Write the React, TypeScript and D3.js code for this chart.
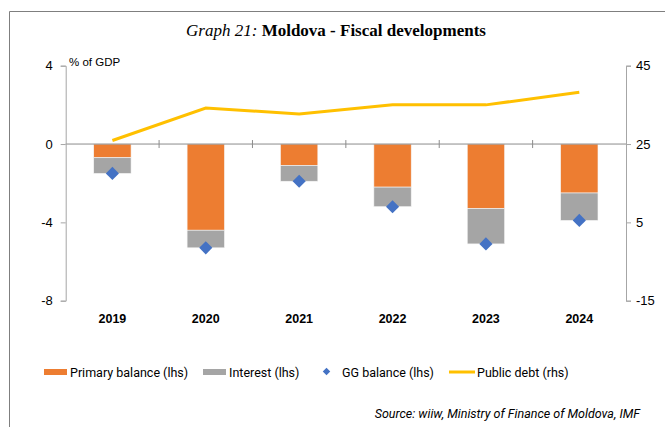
import { useRef, useEffect } from 'react';
import * as d3 from 'd3';

// values, % of GDP
const years = ['2019', '2020', '2021', '2022', '2023', '2024'];
const primaryBalance = [-0.7, -4.4, -1.1, -2.2, -3.3, -2.5];
const interest = [-0.8, -0.9, -0.8, -1.0, -1.8, -1.4];
const ggBalance = [-1.5, -5.3, -1.9, -3.2, -5.1, -3.9];
const publicDebt = [25.9, 34.2, 32.7, 35.0, 35.0, 38.2];
const leftTicks = [-8, -4, 0, 4];
const rightTicks = [-15, 5, 25, 45];

const W = 665;
const H = 427;

const App = () => {
	const svgRef = useRef<SVGSVGElement>(null);

	useEffect(() => {
		document.body.style.margin = '0';
		const svg = d3.select(svgRef.current);
		svg.selectAll('*').remove();

		const left = 65.7;
		const right = 626;
		const top = 65.7;
		const bottom = 300.7;

		const x = d3.scaleBand().domain(years).range([left, right]).padding(0);
		const yL = d3.scaleLinear().domain([-8, 4]).range([bottom, top]);
		const yR = d3.scaleLinear().domain([-15, 45]).range([bottom, top]);
		const barW = x.bandwidth() * 0.4;
		const cx = (d: string) => (x(d) as number) + x.bandwidth() / 2;
		const plain = (d: d3.NumberValue) => String(d); // keep hyphen minus like the original

		// outer frame (runs off the right and bottom edges)
		svg.append('path').attr('d', `M9.5,${H} V11.5 H${W}`).attr('fill', 'none').attr('stroke', '#7f7f7f');

		// title
		const title = svg
			.append('text')
			.attr('x', 336)
			.attr('y', 36)
			.attr('text-anchor', 'middle')
			.style('font-family', '"Liberation Serif", "Times New Roman", serif')
			.style('font-size', '17px')
			.attr('fill', '#000');
		title.append('tspan').style('font-style', 'italic').text('Graph 21: ');
		title.append('tspan').style('font-weight', 'bold').text('Moldova - Fiscal developments');

		const sans = '"Liberation Sans", Arial, sans-serif';

		// unit label
		svg
			.append('text')
			.attr('x', 69)
			.attr('y', 66)
			.style('font-family', sans)
			.style('font-size', '11.5px')
			.attr('fill', '#000')
			.text('% of GDP');

		// stacked bars
		const stackData = years.map((yr, i) => ({ yr, p: primaryBalance[i], it: interest[i] }));
		const g = svg.append('g');
		g.selectAll('rect.pb')
			.data(stackData)
			.enter()
			.append('rect')
			.attr('x', (d) => cx(d.yr) - barW / 2)
			.attr('y', yL(0))
			.attr('width', barW)
			.attr('height', (d) => yL(d.p) - yL(0))
			.attr('fill', '#ED7D31')
			.attr('stroke', '#f6f6f6')
			.attr('stroke-width', 0.6);
		g.selectAll('rect.int')
			.data(stackData)
			.enter()
			.append('rect')
			.attr('x', (d) => cx(d.yr) - barW / 2)
			.attr('y', (d) => yL(d.p))
			.attr('width', barW)
			.attr('height', (d) => yL(d.p + d.it) - yL(d.p))
			.attr('fill', '#A5A5A5')
			.attr('stroke', '#f6f6f6')
			.attr('stroke-width', 0.6);

		// zero line with category ticks
		svg.append('line').attr('x1', left).attr('x2', right).attr('y1', yL(0)).attr('y2', yL(0)).attr('stroke', '#8c8c8c').attr('stroke-width', 1);
		years.slice(1).forEach((yr) => {
			const xx = x(yr) as number;
			svg.append('line').attr('x1', xx).attr('x2', xx).attr('y1', yL(0) - 4).attr('y2', yL(0) + 4).attr('stroke', '#8c8c8c');
		});

		// left axis
		const axL = svg
			.append('g')
			.attr('transform', `translate(${left},0)`)
			.call(d3.axisLeft(yL).tickValues(leftTicks).tickSize(5).tickPadding(8).tickFormat(plain));
		axL.select('.domain').attr('stroke', '#a6a6a6');
		axL.selectAll('.tick line').attr('stroke', '#a6a6a6');
		axL.selectAll('.tick text').attr('fill', '#000').style('font-family', sans).style('font-size', '13px');

		// right axis
		const axR = svg
			.append('g')
			.attr('transform', `translate(${right},0)`)
			.call(d3.axisRight(yR).tickValues(rightTicks).tickSize(5).tickPadding(5).tickFormat(plain));
		axR.select('.domain').attr('stroke', '#a6a6a6');
		axR.selectAll('.tick line').attr('stroke', '#a6a6a6');
		axR.selectAll('.tick text').attr('fill', '#000').style('font-family', sans).style('font-size', '13px');

		// year labels
		svg
			.selectAll('text.yr')
			.data(years)
			.enter()
			.append('text')
			.attr('x', (d) => cx(d))
			.attr('y', 323)
			.attr('text-anchor', 'middle')
			.style('font-family', sans)
			.style('font-size', '12.5px')
			.style('font-weight', 'bold')
			.attr('fill', '#000')
			.text((d) => d);

		// public debt line (rhs)
		const line = d3
			.line<number>()
			.x((_, i) => cx(years[i]))
			.y((d) => yR(d));
		svg.append('path').datum(publicDebt).attr('d', line).attr('fill', 'none').attr('stroke', '#FFC000').attr('stroke-width', 3);

		// GG balance diamonds
		const diamond = d3.symbol().type(d3.symbolDiamond2).size(110);
		svg
			.selectAll('path.gg')
			.data(ggBalance)
			.enter()
			.append('path')
			.attr('d', diamond)
			.attr('transform', (d, i) => `translate(${cx(years[i])},${yL(d)})`)
			.attr('fill', '#4472C4');

		// legend
		const ly = 372;
		const lg = svg.append('g').style('font-family', 'Roboto, "Noto Sans", sans-serif').style('font-size', '12.5px');
		lg.append('rect').attr('x', 44).attr('y', ly - 3).attr('width', 23).attr('height', 6).attr('fill', '#ED7D31');
		lg.append('text').attr('x', 70).attr('y', ly + 4.5).text('Primary balance (lhs)');
		lg.append('rect').attr('x', 203).attr('y', ly - 3).attr('width', 23).attr('height', 6).attr('fill', '#A5A5A5');
		lg.append('text').attr('x', 229).attr('y', ly + 4.5).text('Interest (lhs)');
		lg.append('path').attr('d', d3.symbol().type(d3.symbolDiamond2).size(36)).attr('transform', `translate(326.5,${ly - 0.5})`).attr('fill', '#4472C4');
		lg.append('text').attr('x', 342).attr('y', ly + 4.5).text('GG balance (lhs)');
		lg.append('line').attr('x1', 449).attr('x2', 475).attr('y1', ly).attr('y2', ly).attr('stroke', '#FFC000').attr('stroke-width', 3);
		lg.append('text').attr('x', 477).attr('y', ly + 4.5).text('Public debt (rhs)');

		// source
		svg
			.append('text')
			.attr('x', 640)
			.attr('y', 418)
			.attr('text-anchor', 'end')
			.style('font-family', 'Roboto, "Noto Sans", sans-serif')
			.style('font-size', '12.5px')
			.style('font-style', 'italic')
			.attr('fill', '#000')
			.text('Source: wiiw, Ministry of Finance of Moldova, IMF');
	}, []);

	return <svg ref={svgRef} width={W} height={H} style={{ display: 'block' }} />;
};

export default App;
